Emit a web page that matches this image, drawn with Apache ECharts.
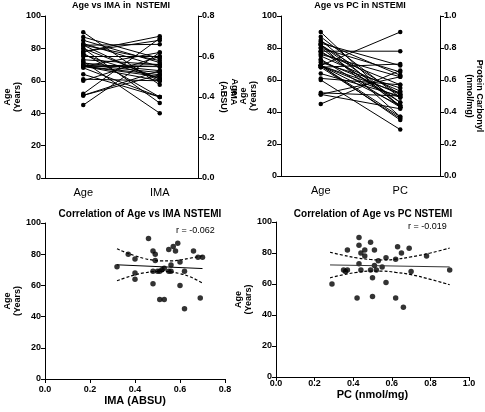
<!DOCTYPE html>
<html>
<head>
<meta charset="utf-8">
<script src="https://cdn.jsdelivr.net/npm/echarts@6/dist/echarts.min.js"></script>
<style>
html,body{margin:0;padding:0;background:#fff;}
#c{width:485px;height:412px;}
</style>
</head>
<body>
<div id="c"></div>
<script>
// ---- data ----
// Age vs IMA pairs (NSTEMI)
const imaVals = [0.32,0.37,0.40,0.40,0.40,0.46,0.48,0.49,0.49,0.48,0.51,0.52,0.50,0.51,0.53,0.55,0.56,0.55,0.56,0.57,0.59,0.58,0.60,0.60,0.62,0.62,0.66,0.68,0.70,0.69,0.53,0.48];
const imaAges = [72,80,77,68,64,90,82,80,76,61,69,70,69,51,51,83,73,69,69,85,87,82,75,60,69,45,82,78,78,52,71,69];
// Age vs PC pairs (NSTEMI)
const pcVals = [0.29,0.37,0.35,0.36,0.37,0.42,0.43,0.43,0.44,0.43,0.44,0.46,0.46,0.49,0.51,0.49,0.52,0.51,0.50,0.50,0.53,0.55,0.57,0.57,0.62,0.62,0.63,0.65,0.69,0.66,0.70,0.78,0.90];
const pcAges  = [60,82,69,68,69,51,90,85,80,73,69,82,78,87,82,69,69,72,64,52,75,71,77,61,76,51,84,80,83,45,68,78,69];
// regression line & 95% bands
const imaFitX = [0.32,0.70];
const imaFitY = [73.2,70.8];
const imaBandX = [0.32,0.36,0.40,0.44,0.48,0.52,0.56,0.60,0.64,0.70];
const imaBandUp = [83.5,81,79,77.3,76.2,75.7,75.7,76.3,77.3,79];
const imaBandLo = [63,65,66.8,68,68.8,69,68.7,67.5,65.8,61.5];
const pcFitX = [0.28,0.90];
const pcFitY = [72.3,71.0];
const pcBandX = [0.28,0.35,0.42,0.49,0.55,0.62,0.70,0.80,0.90];
const pcBandUp = [80.5,78.5,76.8,75.8,75.5,76,77.5,80,83.2];
const pcBandLo = [64,66,67.5,68.3,68.3,67.5,66,63,59.5];
const catsIMA = ['Age','IMA'];
const catsPC = ['Age','PC'];
const ageTicks = {min:0,max:100,interval:20};
const imaTicks = {min:0,max:0.8,interval:0.2};
const pcTicks = {min:0,max:1.0,interval:0.2};
const rIMA = 'r = -0.062';
const rPC = 'r = -0.019';

// ---- chart ----
const FONT = 'Liberation Sans, Arial, sans-serif';
const chart = echarts.init(document.getElementById('c'), null, {renderer:'canvas'});
const black = '#000';
const tickLbl = {color:black,fontSize:9,fontWeight:'bold',fontFamily:FONT,margin:4};
function valueY(gridIndex, t, pos, name, rot, gap, fmt){
  return {type:'value',gridIndex,position:pos,min:t.min,max:t.max,interval:t.interval,
    name,nameLocation:'middle',nameRotate:rot,nameGap:gap,
    nameTextStyle:{color:black,fontSize:9,fontWeight:'bold',fontFamily:FONT,lineHeight:10},
    axisLine:{show:true,lineStyle:{color:black,width:1}},
    axisTick:{show:true,length:4,lineStyle:{color:black}},
    splitLine:{show:false},
    axisLabel:Object.assign({},tickLbl,fmt?{formatter:fmt}:{})};
}
const f1 = v => v.toFixed(1);
const ySc1 = ageTicks.max/imaTicks.max;
const ySc2 = ageTicks.max/pcTicks.max;

const series = [];
imaAges.forEach((a,i)=>{
  series.push({type:'line',xAxisIndex:0,yAxisIndex:0,symbol:'circle',symbolSize:4.5,
    itemStyle:{color:black},lineStyle:{color:black,width:1},silent:true,animation:false,
    data:[[catsIMA[0],a],[catsIMA[1],imaVals[i]*ySc1]]});
});
pcAges.forEach((a,i)=>{
  series.push({type:'line',xAxisIndex:1,yAxisIndex:2,symbol:'circle',symbolSize:4.5,
    itemStyle:{color:black},lineStyle:{color:black,width:1},silent:true,animation:false,
    data:[[catsPC[0],a],[catsPC[1],pcVals[i]*ySc2]]});
});
// scatter bottom-left
series.push({type:'scatter',xAxisIndex:2,yAxisIndex:4,symbolSize:5.5,itemStyle:{color:black},animation:false,
  data:imaVals.map((v,i)=>[v,imaAges[i]])});
series.push({type:'line',xAxisIndex:2,yAxisIndex:4,symbol:'none',lineStyle:{color:black,width:1},animation:false,
  data:imaFitX.map((v,i)=>[v,imaFitY[i]])});
series.push({type:'line',xAxisIndex:2,yAxisIndex:4,symbol:'none',smooth:true,lineStyle:{color:black,width:1.2,type:[3,2]},animation:false,
  data:imaBandX.map((v,i)=>[v,imaBandUp[i]])});
series.push({type:'line',xAxisIndex:2,yAxisIndex:4,symbol:'none',smooth:true,lineStyle:{color:black,width:1.2,type:[3,2]},animation:false,
  data:imaBandX.map((v,i)=>[v,imaBandLo[i]])});
// scatter bottom-right
series.push({type:'scatter',xAxisIndex:3,yAxisIndex:5,symbolSize:5.5,itemStyle:{color:black},animation:false,
  data:pcVals.map((v,i)=>[v,pcAges[i]])});
series.push({type:'line',xAxisIndex:3,yAxisIndex:5,symbol:'none',lineStyle:{color:'#333',width:1},animation:false,
  data:pcFitX.map((v,i)=>[v,pcFitY[i]])});
series.push({type:'line',xAxisIndex:3,yAxisIndex:5,symbol:'none',smooth:true,lineStyle:{color:black,width:1.2,type:[3,2]},animation:false,
  data:pcBandX.map((v,i)=>[v,pcBandUp[i]])});
series.push({type:'line',xAxisIndex:3,yAxisIndex:5,symbol:'none',smooth:true,lineStyle:{color:black,width:1.2,type:[3,2]},animation:false,
  data:pcBandX.map((v,i)=>[v,pcBandLo[i]])});

const catX = (gi, cats) => ({type:'category',gridIndex:gi,data:cats,boundaryGap:true,
  axisLine:{show:true,lineStyle:{color:black,width:1}},axisTick:{show:false},
  axisLabel:{color:black,fontSize:11,fontFamily:FONT,margin:9},splitLine:{show:false}});
const valX = (gi, t, name, margin, gap) => ({type:'value',gridIndex:gi,min:t.min,max:t.max,interval:t.interval,
  name,nameLocation:'middle',nameGap:gap,
  nameTextStyle:{color:black,fontSize:11,fontWeight:'bold',fontFamily:FONT},
  axisLine:{show:true,onZero:false,lineStyle:{color:black,width:1}},
  axisTick:{show:true,length:4,lineStyle:{color:black}},splitLine:{show:false},
  axisLabel:Object.assign({},tickLbl,{formatter:f1,margin})});

const titleStyle = (sz)=>({color:black,fontSize:sz,fontWeight:'bold',fontFamily:FONT});
const option = {
  backgroundColor:'#fff',
  animation:false,
  title:[
    {text:'Age vs IMA in  NSTEMI',left:121,top:1,textAlign:'center',padding:0,textStyle:titleStyle(9)},
    {text:'Age vs PC in NSTEMI',left:360,top:1,textAlign:'center',padding:0,textStyle:titleStyle(9)},
    {text:'Correlation of Age vs IMA NSTEMI',left:140,top:209,textAlign:'center',padding:0,textStyle:titleStyle(10)},
    {text:'Correlation of Age vs PC NSTEMI',left:373,top:209,textAlign:'center',padding:0,textStyle:titleStyle(10)}
  ],
  grid:[
    {left:45,top:16,width:153,height:162},
    {left:281,top:16,width:159,height:160},
    {left:45,top:223,width:180,height:156},
    {left:276,top:222,width:193,height:155}
  ],
  xAxis:[catX(0,catsIMA),catX(1,catsPC),valX(2,imaTicks,'IMA (ABSU)',6,16),valX(3,pcTicks,'PC (nmol/mg)',2,12)],
  yAxis:[
    valueY(0,ageTicks,'left','Age\n(Years)',90,22),
    valueY(0,imaTicks,'right','IMA\n(ABSU)',-90,9,f1),
    valueY(1,ageTicks,'left','Age\n(Years)',90,21),
    valueY(1,pcTicks,'right','Protein Carbonyl\n(nmol/mg)',-90,24,f1),
    valueY(2,ageTicks,'left','Age\n(Years)',90,22),
    valueY(3,ageTicks,'left','Age\n(Years)',90,21)
  ],
  graphic:[
    {type:'text',left:176,top:226,style:{text:rIMA,fill:black,font:'9px '+FONT}},
    {type:'text',left:408,top:222,style:{text:rPC,fill:black,font:'9px '+FONT}},
    {type:'text',x:234,y:87,rotation:-Math.PI/2,style:{text:'Age',fill:black,font:'bold 9px '+FONT,textAlign:'center',textVerticalAlign:'middle'}}
  ],
  series
};
chart.setOption(option);
</script>
</body>
</html>
